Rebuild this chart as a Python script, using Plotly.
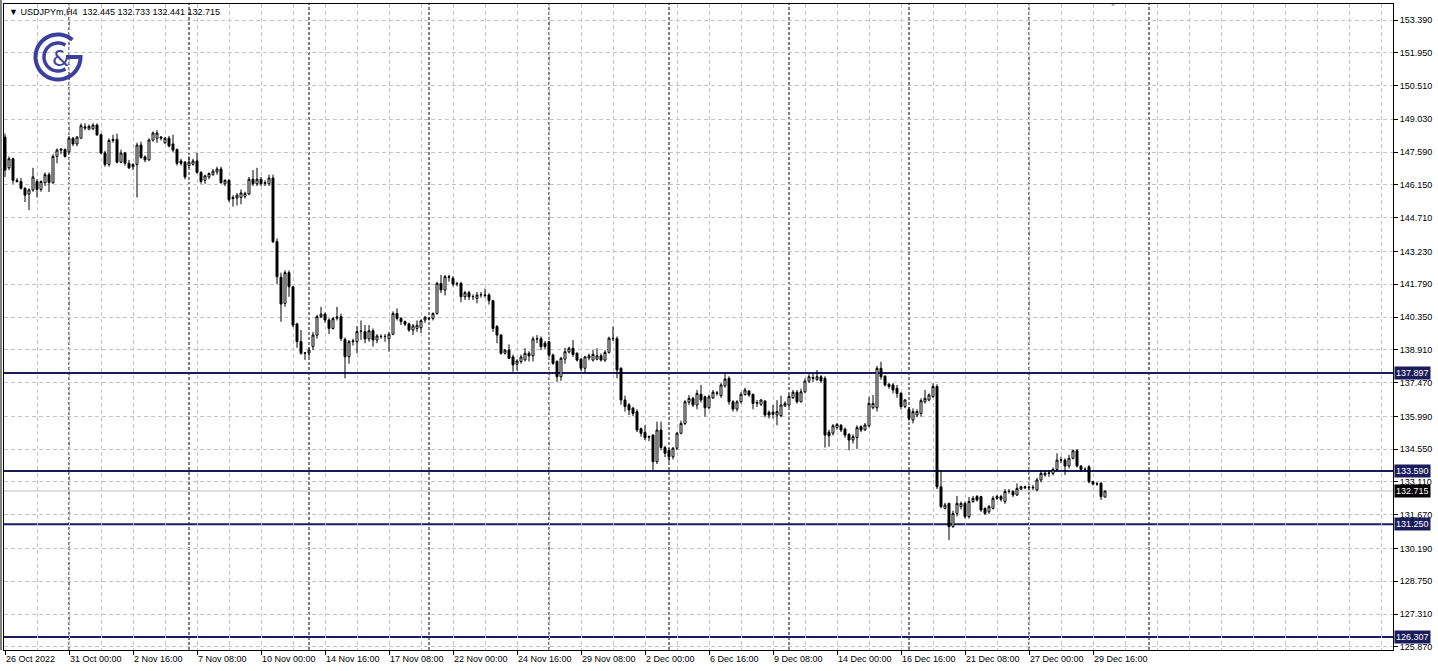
import plotly.graph_objects as go
import math

# ---------------- DATA ----------------
open_ = [148.25,146.90,147.30,146.35,146.30,146.00,145.75,145.93,146.30,145.95,
146.25,146.60,146.25,147.40,147.68,147.70,147.60,148.20,147.95,148.20,
148.70,148.60,148.62,148.78,148.35,147.55,147.05,148.10,148.15,147.15,
147.55,147.10,146.95,147.05,147.90,147.38,147.25,148.12,148.20,148.25,
148.00,148.20,147.95,147.70,147.20,147.15,147.00,147.05,147.20,146.70,
146.35,146.50,146.60,146.72,146.85,146.20,146.35,145.55,145.58,145.60,
145.65,145.75,146.40,146.20,146.40,146.22,146.20,146.45,143.66,142.10,
140.95,142.30,141.68,140.05,139.27,138.76,138.78,139.05,139.56,140.37,
140.48,140.22,139.85,140.30,140.37,139.37,138.61,139.27,139.27,139.71,
139.71,139.39,139.75,139.34,139.50,139.49,139.40,139.60,140.51,140.29,
140.15,140.05,139.78,139.85,139.88,140.22,140.30,140.29,140.51,141.83,
141.54,142.12,142.05,141.80,141.83,141.24,141.42,141.24,141.17,141.32,
141.32,141.32,141.07,139.93,139.56,138.76,138.90,138.60,138.28,138.40,
138.47,138.76,138.65,139.39,139.40,139.20,139.27,138.68,138.40,137.73,
138.50,138.82,138.98,138.76,138.50,138.10,138.55,138.46,138.50,138.65,
138.46,138.80,139.42,139.40,138.10,136.71,136.50,136.35,136.20,135.45,
135.29,135.10,135.17,134.00,135.39,134.62,134.50,134.22,134.59,135.25,
135.68,136.61,136.78,136.49,136.96,136.85,136.37,136.81,137.00,136.90,
137.33,137.66,136.63,136.31,136.63,136.95,137.10,136.95,136.56,136.52,
136.66,136.17,136.17,136.05,136.02,136.45,136.49,136.81,137.05,136.63,
137.07,137.54,137.70,137.60,137.73,137.66,135.30,135.25,135.50,135.60,
135.43,135.20,134.95,135.06,135.54,135.40,135.58,136.37,136.37,138.10,
137.75,137.40,137.37,137.22,137.00,136.42,136.30,135.83,136.05,136.12,
136.63,136.71,136.86,137.30,132.90,131.95,132.17,131.15,131.73,132.03,
132.17,131.59,132.25,132.47,132.47,131.95,131.80,131.95,132.39,132.47,
132.25,132.69,132.69,132.54,132.80,132.90,132.86,132.88,132.76,133.20,
133.42,133.49,133.49,133.66,134.07,134.07,133.81,134.15,134.48,133.81,
133.66,133.78,133.12,133.02,133.05,132.445]

high_ = [148.40,147.40,147.35,146.45,146.45,146.05,146.00,146.90,146.40,146.35,
146.70,146.70,147.50,147.75,147.75,147.75,148.30,148.25,148.30,148.85,
148.85,148.80,148.85,148.85,148.40,147.65,148.20,148.35,148.40,147.70,
147.60,147.25,147.10,148.00,148.05,147.45,148.20,148.50,148.55,148.30,
148.25,148.30,148.35,147.75,147.30,147.20,147.40,147.30,147.55,146.75,
146.60,146.70,146.85,146.95,146.95,146.40,146.40,145.70,145.80,145.95,
145.85,146.50,146.80,146.90,146.50,146.35,146.60,146.60,143.80,142.30,
142.40,142.40,141.70,140.10,139.78,138.80,139.00,139.70,140.45,140.80,
140.55,140.30,140.35,140.80,140.50,139.45,139.35,139.40,139.95,140.20,
140.00,140.00,139.85,139.60,139.60,139.60,139.70,140.60,140.73,140.35,
140.20,140.10,140.05,140.20,140.25,140.40,140.35,140.55,141.90,142.20,
142.20,142.20,142.15,141.90,141.90,141.50,141.50,141.35,141.45,141.45,
141.60,141.40,141.10,140.00,139.60,138.95,139.15,138.70,138.50,138.70,
138.98,138.85,139.49,139.56,139.50,139.30,139.30,138.75,138.45,138.60,
139.00,139.05,139.34,138.80,138.55,138.65,138.75,138.90,138.98,138.75,
138.90,139.49,139.93,139.50,138.15,136.90,136.57,136.40,136.30,135.50,
135.60,135.15,135.20,135.76,135.76,134.70,134.60,134.65,135.30,135.80,
136.70,136.93,136.85,137.15,137.37,136.90,136.95,137.15,137.10,137.45,
137.92,137.75,136.70,136.70,137.05,137.25,137.15,137.00,136.70,136.75,
136.70,136.25,136.49,136.70,136.90,136.65,136.95,137.15,137.15,137.20,
137.66,137.84,137.88,138.02,137.80,137.75,135.40,135.65,135.70,135.65,
135.50,135.25,135.20,135.60,135.60,135.70,136.85,136.93,138.20,138.39,
137.80,137.45,137.45,137.37,137.05,136.75,136.40,136.34,136.30,136.78,
137.15,137.00,137.44,137.40,133.63,132.20,132.20,131.85,132.50,132.25,
132.25,132.45,132.50,132.54,132.50,132.00,132.10,132.50,132.54,132.55,
132.80,132.80,132.75,133.05,132.95,132.95,132.95,132.98,133.30,133.60,
133.60,133.64,133.75,134.37,134.22,134.15,134.30,134.54,134.55,133.85,
133.75,133.85,133.15,133.10,133.12,132.733]

low_ = [146.50,146.80,146.20,146.25,145.95,145.40,145.05,145.85,145.60,145.85,
146.10,145.84,146.20,147.10,147.50,147.35,147.50,147.85,147.85,148.20,
148.55,148.55,148.55,148.30,147.50,146.95,146.95,148.00,147.10,147.10,
147.00,146.85,146.80,145.60,147.30,147.15,147.20,148.05,148.00,148.10,
147.95,147.80,147.60,147.00,147.00,146.40,146.90,147.00,146.65,146.20,
146.20,146.40,146.55,146.60,146.20,146.10,145.40,145.20,145.25,145.30,
145.55,145.70,146.10,146.10,146.10,146.10,146.10,143.60,141.80,140.14,
140.80,141.24,139.90,139.00,138.70,138.47,138.60,138.90,139.40,140.30,
140.10,139.60,139.80,140.20,139.30,137.66,138.30,139.10,138.76,139.35,
139.20,139.27,139.05,139.20,139.40,139.27,138.83,139.55,140.20,140.00,
139.95,139.70,139.56,139.70,139.65,140.10,140.20,140.20,140.45,141.40,
141.30,141.90,141.70,141.70,141.00,141.10,141.10,141.10,140.95,141.20,
141.20,140.90,139.70,139.20,138.70,138.70,138.50,137.95,138.00,138.30,
138.40,138.40,138.40,139.20,138.90,138.95,138.60,138.25,137.50,137.55,
138.30,138.75,138.60,138.40,137.98,137.88,138.45,138.40,138.45,138.40,
138.38,138.75,139.30,137.66,136.50,136.20,136.05,136.00,135.30,135.10,
134.95,134.90,133.64,133.90,134.50,134.20,134.00,134.10,134.50,135.20,
135.60,136.50,136.40,136.30,136.60,135.98,136.30,136.75,136.90,136.80,
137.25,136.50,136.20,136.20,136.55,136.90,136.85,136.30,136.40,136.45,
135.95,135.90,135.90,135.60,135.95,136.40,136.40,136.75,136.55,136.60,
137.00,137.45,137.50,137.55,137.45,134.62,134.66,135.15,135.40,135.30,
135.05,134.50,134.80,134.56,135.30,135.35,135.50,136.30,136.20,137.60,
137.30,137.20,137.00,136.80,136.30,136.35,135.80,135.68,135.95,135.98,
136.55,136.65,136.80,132.80,131.95,131.90,130.56,131.10,131.60,131.90,
131.50,131.50,132.20,132.25,131.80,131.66,131.70,131.90,132.32,132.25,
132.15,132.60,132.45,132.50,132.75,132.80,132.75,132.76,132.70,133.10,
133.35,133.34,133.40,133.60,133.93,133.42,133.70,134.10,133.75,133.55,
133.55,133.05,132.95,132.95,132.32,132.441]

close_ = [146.80,147.30,146.35,146.30,146.00,145.70,145.93,146.50,145.95,146.30,
146.60,146.25,147.40,147.68,147.72,147.40,148.20,147.95,148.25,148.75,
148.65,148.72,148.78,148.35,147.55,147.05,148.10,148.15,147.15,147.55,
147.10,146.90,147.05,147.90,147.35,147.25,148.12,148.43,148.43,148.20,
148.20,147.86,147.68,147.10,147.10,146.50,147.15,147.20,146.70,146.30,
146.55,146.65,146.75,146.85,146.25,146.35,145.50,145.60,145.70,145.80,
145.78,146.40,146.20,146.40,146.20,146.25,146.45,143.66,142.12,140.92,
142.30,141.68,140.00,139.27,138.76,138.78,138.90,139.56,140.37,140.48,
140.22,139.85,140.28,140.35,139.41,138.61,139.27,139.30,139.71,139.73,
139.39,139.75,139.34,139.52,139.49,139.50,139.60,140.51,140.29,140.15,
140.04,139.78,139.96,139.99,140.19,140.34,140.28,140.51,141.83,141.54,
142.12,142.10,141.80,141.82,141.24,141.42,141.24,141.25,141.32,141.34,
141.30,141.07,139.85,139.56,138.76,138.90,138.54,138.25,138.42,138.60,
138.76,138.65,139.39,139.40,139.05,139.05,138.68,138.32,137.73,138.54,
138.83,138.98,138.71,138.46,138.10,138.60,138.65,138.71,138.65,138.46,
138.80,139.42,139.40,138.03,136.71,136.42,136.27,136.12,135.39,135.25,
135.05,135.08,134.00,135.39,134.62,134.37,134.22,134.59,135.25,135.68,
136.63,136.78,136.49,137.00,136.71,136.37,136.85,137.05,137.02,137.37,
137.63,136.63,136.31,136.63,136.96,137.15,136.93,136.56,136.60,136.71,
136.05,136.05,136.08,136.20,136.49,136.56,136.86,137.05,136.63,137.07,
137.54,137.73,137.66,137.73,137.55,135.17,135.14,135.58,135.64,135.39,
135.17,134.95,135.10,135.50,135.39,135.61,136.56,136.56,138.10,137.73,
137.37,137.30,137.15,137.00,136.42,136.71,135.90,136.20,136.20,136.68,
136.78,136.93,137.30,132.90,132.03,132.10,131.15,131.73,132.17,132.17,
131.59,132.25,132.39,132.32,131.88,131.73,132.03,132.39,132.47,132.35,
132.69,132.70,132.54,132.83,132.90,132.86,132.88,132.86,133.20,133.49,
133.49,133.50,133.66,134.07,134.08,133.81,134.15,134.48,133.81,133.66,
133.67,133.12,133.02,133.03,132.47,132.715]

bar_index = list(range(len(close_)))

date_tick_index = [0, 16, 32, 48, 64, 80, 96, 112, 128, 144, 160, 176, 192, 208, 224, 240, 256, 272]
date_tick_text = ["26 Oct 2022", "31 Oct 00:00", "2 Nov 16:00", "7 Nov 08:00", "10 Nov 00:00",
                  "14 Nov 16:00", "17 Nov 08:00", "22 Nov 00:00", "24 Nov 16:00", "29 Nov 08:00",
                  "2 Dec 00:00", "6 Dec 16:00", "9 Dec 08:00", "14 Dec 00:00", "16 Dec 16:00",
                  "21 Dec 08:00", "27 Dec 00:00", "29 Dec 16:00"]

week_separator_index = [16, 46, 76, 106, 136, 166, 196, 226, 256, 286]

price_ticks = [153.390, 151.950, 150.510, 149.030, 147.590, 146.150, 144.710, 143.230,
               141.790, 140.350, 138.910, 137.470, 135.990, 134.550, 133.110, 131.670,
               130.190, 128.750, 127.310, 125.870]

level_prices = [137.897, 133.590, 131.250, 126.307]
current_price = 132.715
header_text = "USDJPYm,H4  132.445 132.733 132.441 132.715"

# ---------------- STYLE ----------------
NAVY = "#1b1c5c"
LOGO = "#3b3f9e"
GRID = "#c4c4c4"
FONT = "Liberation Sans, Arial, sans-serif"

W, H = 1438, 671
ML, MR, MT, MB = 4, 45, 4, 21
X_RANGE = [-0.25, 347.0]
Y_RANGE = [125.7343, 154.0924]

plot_w = W - ML - MR
plot_h = H - MT - MB


def px2x(px):
    return X_RANGE[0] + (px - ML) / plot_w * (X_RANGE[1] - X_RANGE[0])


def py2y(py):
    return Y_RANGE[1] - (py - MT) / plot_h * (Y_RANGE[1] - Y_RANGE[0])


fig = go.Figure()

fig.add_trace(go.Candlestick(
    x=bar_index, open=open_, high=high_, low=low_, close=close_,
    increasing=dict(line=dict(color="black", width=1), fillcolor="white"),
    decreasing=dict(line=dict(color="black", width=1), fillcolor="black"),
    whiskerwidth=0, showlegend=False, hoverinfo="skip",
))

shapes = []
for wi in week_separator_index:
    shapes.append(dict(type="line", xref="x", yref="paper", x0=wi, x1=wi, y0=0, y1=1,
                       line=dict(color="black", width=1, dash="3px,2px"), layer="below"))
for lv in level_prices:
    shapes.append(dict(type="line", xref="paper", yref="y", x0=0, x1=1, y0=lv, y1=lv,
                       line=dict(color=NAVY, width=2), layer="below"))
shapes.append(dict(type="line", xref="paper", yref="y", x0=0, x1=1, y0=current_price, y1=current_price,
                   line=dict(color="#bdbdbd", width=1), layer="below"))
shapes.append(dict(type="line", xref="paper", yref="paper", x0=-3 / plot_w, x1=-3 / plot_w,
                   y0=0, y1=1 + MT / plot_h, line=dict(color="black", width=1)))

# logo (decorative)
cx, cy = 58.0, 57.0


def arc(r, a0, a1, n=60):
    pts = []
    for k in range(n + 1):
        a = math.radians(a0 + (a1 - a0) * k / n)
        pts.append((cx + r * math.cos(a), cy - r * math.sin(a)))
    return pts


outer = arc(22.5, 50, 360) + [(cx + 8, cy)]
inner = arc(14.0, 58, 302)
for pts, wdt in ((outer, 4), (inner, 3.5)):
    path = "M " + " L ".join(f"{px2x(p[0]):.4f},{py2y(p[1]):.4f}" for p in pts)
    shapes.append(dict(type="path", xref="x", yref="y", path=path,
                       line=dict(color=LOGO, width=wdt)))

tx = 1113
shapes.append(dict(type="path", xref="x", yref="y",
                   path=f"M {px2x(tx-4):.3f},{py2y(1):.4f} L {px2x(tx+4):.3f},{py2y(1):.4f} L {px2x(tx):.3f},{py2y(6):.4f} Z",
                   fillcolor="#b0b0b0", line=dict(color="#b0b0b0", width=1)))

annotations = []
for lv in level_prices:
    annotations.append(dict(xref="paper", yref="y", x=1, y=lv, xanchor="left", yanchor="middle",
                            xshift=1, text=f"{lv:.3f}", showarrow=False,
                            font=dict(family=FONT, size=9, color="white"),
                            bgcolor=NAVY, borderpad=1))
annotations.append(dict(xref="paper", yref="y", x=1, y=current_price, xanchor="left", yanchor="middle",
                        xshift=1, text=f"{current_price:.3f}", showarrow=False,
                        font=dict(family=FONT, size=9, color="white"),
                        bgcolor="black", borderpad=1))
annotations.append(dict(xref="paper", yref="paper", x=0, y=1, xanchor="left", yanchor="top",
                        xshift=3, yshift=-1, text="\u25BC " + header_text, showarrow=False,
                        font=dict(family=FONT, size=9, color="black")))
annotations.append(dict(xref="x", yref="y", x=px2x(cx + 2), y=py2y(cy + 1), text="&", showarrow=False,
                        font=dict(family="DejaVu Sans", size=22, color=LOGO)))

fig.update_layout(
    width=W, height=H,
    margin=dict(l=ML, r=MR, t=MT, b=MB, pad=0),
    paper_bgcolor="white", plot_bgcolor="white",
    font=dict(family=FONT, size=9, color="black"),
    shapes=shapes, annotations=annotations,
    showlegend=False, hovermode=False,
    xaxis=dict(range=X_RANGE, rangeslider=dict(visible=False), fixedrange=True,
               tickmode="array", tickvals=date_tick_index, ticktext=date_tick_text,
               ticks="outside", ticklen=4, tickcolor="black",
               ticklabelposition="outside right",
               showgrid=True, gridcolor=GRID, griddash="4px,3px", gridwidth=1,
               minor=dict(dtick=8, tick0=0, showgrid=True, gridcolor=GRID, griddash="4px,3px",
                          ticks="", ticklen=0),
               showline=True, linecolor="black", linewidth=1, mirror=True,
               zeroline=False, tickfont=dict(family=FONT, size=9)),
    yaxis=dict(range=Y_RANGE, side="right", fixedrange=True,
               tickmode="array", tickvals=price_ticks, ticktext=[f"{v:.3f}" for v in price_ticks],
               ticks="outside", ticklen=4, tickcolor="black",
               showgrid=True, gridcolor=GRID, griddash="4px,3px", gridwidth=1,
               showline=True, linecolor="black", linewidth=1, mirror=True,
               zeroline=False, tickfont=dict(family=FONT, size=9)),
)

fig.write_html("out.html", config={"displayModeBar": False},
               post_script="document.body.style.margin='0';document.body.style.overflow='hidden';")
